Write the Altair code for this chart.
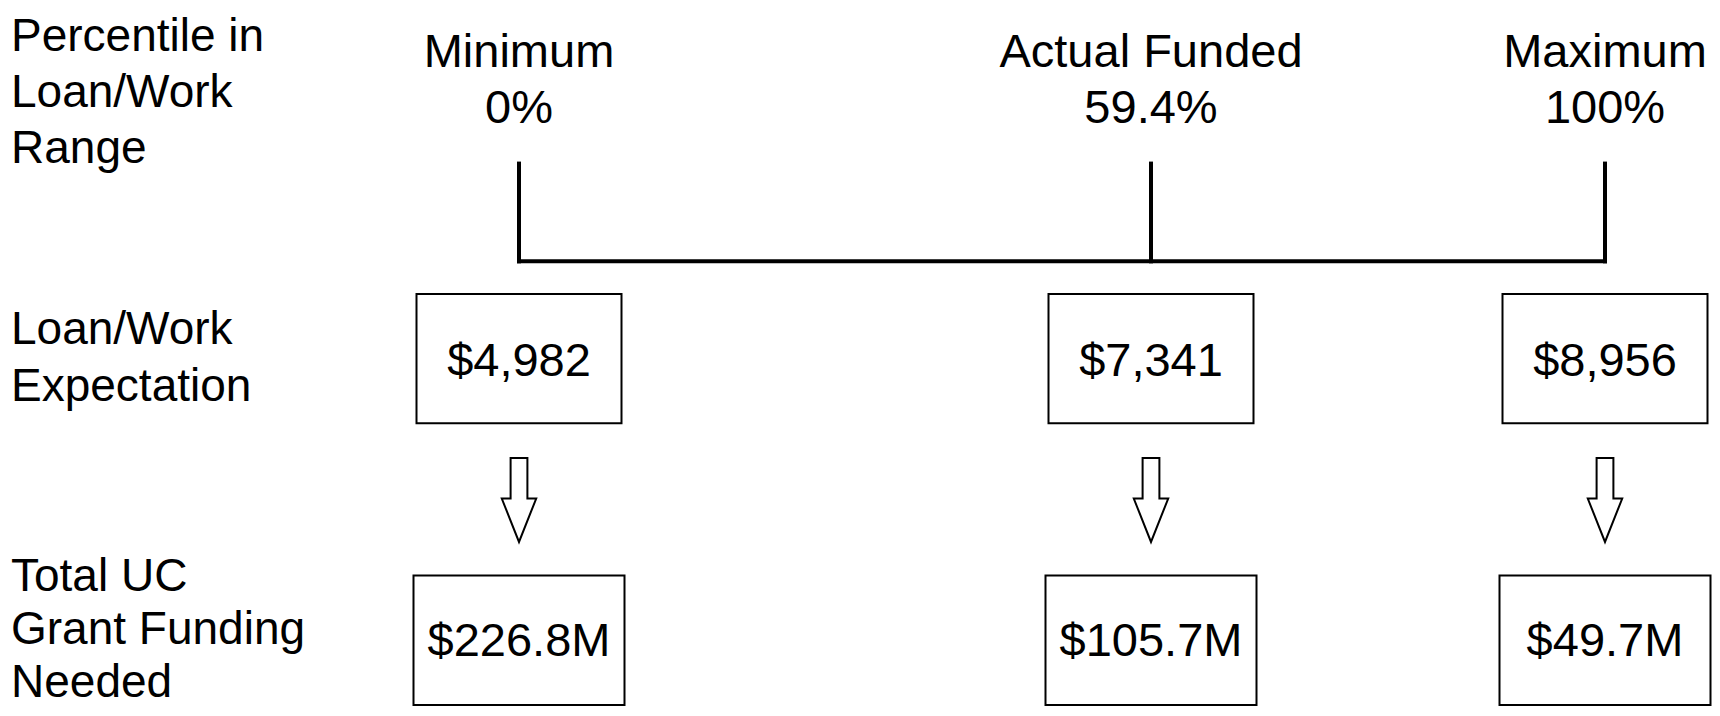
import altair as alt
import pandas as pd

# ---- data ----
categories = ["Minimum", "Actual Funded", "Maximum"]
percentiles = [0, 59.4, 100]
loan_work = [4982, 7341, 8956]
grant_needed_m = [226.8, 105.7, 49.7]
row_labels = [
    "Percentile in\nLoan/Work\nRange",
    "Loan/Work\nExpectation",
    "Total UC\nGrant Funding\nNeeded",
]

df = pd.DataFrame({
    "category": categories,
    "pct": percentiles,
    "loan": loan_work,
    "grant": grant_needed_m,
})

FONT = "Liberation Sans"
FS = 47
K = 0.988


def X(p):
    return p - 8


def Y(p):
    return (p - 45) * K + 37


xs = alt.Scale(domain=percentiles, range=[X(519), X(1151), X(1605)], nice=False, zero=False)
xenc = alt.X("pct:Q", scale=xs, axis=None)

base = alt.Chart(df)

layers = []

# left row labels (first baseline in chart px, line height)
label_layout = [(43, 56), (Y(348), 57), (583, 53)]
for txt, (b, lh) in zip(row_labels, label_layout):
    layers.append(
        alt.Chart(pd.DataFrame({"t": [txt]}))
        .mark_text(font=FONT, fontSize=46, align="left", baseline="alphabetic",
                   lineBreak="\n", lineHeight=lh, color="black")
        .encode(x=alt.value(X(11)), y=alt.value(b), text="t:N")
    )

# column headers
layers.append(
    base.transform_calculate(
        head="datum.category + '\\n' + format(datum.pct, '~g') + '%'"
    )
    .mark_text(font=FONT, fontSize=FS, align="center", baseline="alphabetic",
               lineBreak="\n", lineHeight=57 * K, color="black")
    .encode(x=xenc, y=alt.value(Y(67)), text="head:N")
)

# vertical ticks
layers.append(
    base.mark_rule(color="black", strokeWidth=4)
    .encode(x=xenc, y=alt.value(Y(163)), y2=alt.value(Y(266)))
)

# horizontal range line
layers.append(
    base.mark_rule(color="black", strokeWidth=4, strokeCap="square")
    .encode(x=alt.X("min(pct):Q", scale=xs, axis=None), x2=alt.X2("max(pct)"),
            y=alt.value(Y(264)))
)


def rect_path(hh):
    return f"M-1,-{hh} L1,-{hh} L1,{hh} L-1,{hh} Z"


# row 1 boxes
layers.append(
    base.mark_point(shape=rect_path(0.631), size=205 ** 2, filled=True, fill="white",
                    stroke="black", strokeWidth=2, opacity=1)
    .encode(x=xenc, y=alt.value(Y(362.5)))
)
layers.append(
    base.transform_calculate(lt="format(datum.loan, '$,.0f')")
    .mark_text(font=FONT, fontSize=FS, align="center", baseline="alphabetic", color="black")
    .encode(x=xenc, y=alt.value(Y(380)), text="lt:N")
)

# arrows
arrow = "M-0.2,-1 L0.2,-1 L0.2,-0.035 L0.41,-0.035 L0,1 L-0.41,-0.035 L-0.2,-0.035 Z"
layers.append(
    base.mark_point(shape=arrow, size=84 ** 2, filled=True, fill="white",
                    stroke="black", strokeWidth=2, opacity=1)
    .encode(x=xenc, y=alt.value(Y(505.5)))
)

# row 2 boxes
layers.append(
    base.mark_point(shape=rect_path(0.613), size=211 ** 2, filled=True, fill="white",
                    stroke="black", strokeWidth=2, opacity=1)
    .encode(x=xenc, y=alt.value(Y(647.5)))
)
layers.append(
    base.transform_calculate(gt="'$' + format(datum.grant, '.1f') + 'M'")
    .mark_text(font=FONT, fontSize=FS, align="center", baseline="alphabetic", color="black")
    .encode(x=xenc, y=alt.value(Y(663)), text="gt:N")
)

chart = (
    alt.layer(*layers)
    .properties(width=1704, height=700, padding=0,
                autosize=alt.AutoSizeParams(type="none"), background="white")
    .configure_view(stroke=None)
)

chart.save("out.html", embed_options={"renderer": "svg", "actions": False})
